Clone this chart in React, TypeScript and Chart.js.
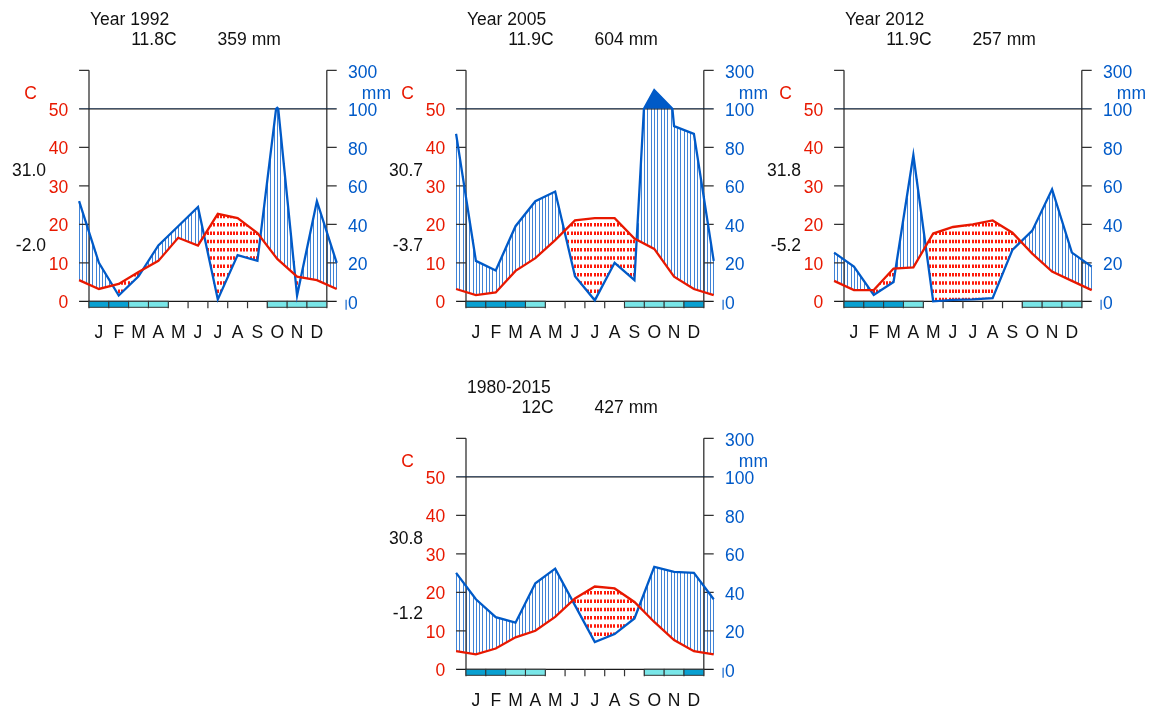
import React, { useEffect, useRef } from "react";
import { Chart, registerables } from "chart.js";

Chart.register(...registerables);

// ---------- data ----------
const MONTHS = ["J", "F", "M", "A", "M", "J", "J", "A", "S", "O", "N", "D"];
const TEMP_TICKS = [0, 10, 20, 30, 40, 50];
const PREC_TICK_LABELS = ["0", "20", "40", "60", "80", "100"];
const PREC_TOP_LABEL = "300";

const titles = ["Year 1992", "Year 2005", "Year 2012", "1980-2015"];
const meanTemp = ["11.8", "11.9", "11.9", "12"];
const totalPrec = ["359", "604", "257", "427"];
const maxLabels = ["31.0", "30.7", "31.8", "30.8"];
const minLabels = ["-2.0", "-3.7", "-5.2", "-1.2"];

const temp1992 = [3.2, 4.5, 7.6, 10.5, 16.5, 14.5, 22.7, 21.6, 17.7, 11.0, 6.4, 5.5];
const prec1992 = [20, 3, 13, 29, 39, 49, 1, 24, 21, 105, 3, 52];
const frost1992 = [2, 2, 1, 1, 0, 0, 0, 0, 0, 1, 1, 1];

const temp2005 = [1.6, 2.3, 7.9, 11.2, 15.9, 21.0, 21.6, 21.6, 16.3, 13.6, 6.4, 3.2];
const prec2005 = [21, 16, 39, 52, 57, 13, 0.5, 20, 11, 197, 91, 87];
const frost2005 = [2, 2, 2, 1, 0, 0, 0, 0, 1, 1, 1, 2];

const temp2012 = [2.9, 2.9, 8.5, 8.8, 17.6, 19.3, 20.0, 21.0, 17.8, 12.4, 7.7, 5.3];
const prec2012 = [18, 3.3, 10, 76, 0, 0.7, 1, 1.6, 26.7, 36.7, 58.2, 25.3];
const frost2012 = [2, 2, 2, 1, 0, 0, 0, 0, 0, 1, 1, 1];

const tempAll = [3.9, 5.4, 8.3, 10.0, 13.6, 18.4, 21.5, 21.0, 17.5, 12.3, 7.6, 4.7];
const precAll = [36.4, 27.1, 24.2, 44.7, 52.3, 33.2, 14.2, 18.3, 26.4, 53.2, 50.6, 50.1];
const frostAll = [2, 2, 1, 1, 0, 0, 0, 0, 0, 1, 1, 2];

// ---------- style ----------
const TCOL = "#e81800";
const PCOL = "#005ac8";
const SFCOL = "#09a0d1";
const PFCOL = "#79e6e8";
const FONT = '17.5px "Liberation Sans", Arial, sans-serif';

const CW = 400;
const CH = 360;
const AX_L = 89;
const AX_R = 326.8;
const Y0 = 301.3;
const UNIT = 3.85; // px per degree
const MW = (AX_R - AX_L) / 12;

const PANELS = [
  { ox: 0, oy: 0, temp: temp1992, prec: prec1992, frost: frost1992, i: 0 },
  { ox: 377, oy: 0, temp: temp2005, prec: prec2005, frost: frost2005, i: 1 },
  { ox: 755, oy: 0, temp: temp2012, prec: prec2012, frost: frost2012, i: 2 },
  { ox: 377, oy: 368, temp: tempAll, prec: precAll, frost: frostAll, i: 3 },
];

const XS = [-0.5, 0.5, 1.5, 2.5, 3.5, 4.5, 5.5, 6.5, 7.5, 8.5, 9.5, 10.5, 11.5, 12.5];
const ext = (a: number[]) => [a[11], ...a, a[0]];
const pTrans = (p: number) => (p <= 100 ? p / 2 : 50 + (p - 100) / 20);

function interp(arr: number[], xv: number) {
  let i = Math.floor(xv + 0.5);
  if (i < 0) i = 0;
  if (i > 12) i = 12;
  const f = xv - XS[i];
  return arr[i] + (arr[i + 1] - arr[i]) * f;
}

function Panel({ cfg }: { cfg: any }) {
  const ref = useRef<HTMLCanvasElement>(null);
  useEffect(() => {
    const T = ext(cfg.temp);
    const P = ext(cfg.prec);
    const tData = XS.map((x, i) => ({ x, y: T[i] }));
    const pData: { x: number; y: number }[] = [];
    for (let i = 0; i < XS.length; i++) {
      pData.push({ x: XS[i], y: pTrans(P[i]) });
      if (i < XS.length - 1) {
        const a = P[i], b = P[i + 1];
        if ((a - 100) * (b - 100) < 0) {
          const f = (100 - a) / (b - a);
          pData.push({ x: XS[i] + f, y: 50 });
        }
      }
    }
    const k = cfg.i;

    const plugin = {
      id: "walterLieth",
      beforeDatasetsDraw(chart: any) {
        const { ctx, chartArea } = chart;
        const xs = chart.scales.x;
        const ys = chart.scales.y;
        const y0 = ys.getPixelForValue(0);
        ctx.save();
        // hatching
        const step = 3.3;
        for (let px = chartArea.left; px <= chartArea.right + 0.01; px += step) {
          const xv = xs.getValueForPixel(px);
          const t = interp(T, xv);
          const p = pTrans(interp(P, xv));
          const yt = ys.getPixelForValue(t);
          const yp = ys.getPixelForValue(p);
          if (p > t) {
            ctx.strokeStyle = "rgba(0,90,200,0.75)";
            ctx.lineWidth = 1;
            ctx.setLineDash([]);
            const cx = Math.round(px) + 0.5;
            ctx.beginPath();
            ctx.moveTo(cx, yt);
            ctx.lineTo(cx, yp);
            ctx.stroke();
          } else if (t > p) {
            ctx.strokeStyle = "#ff1a0a";
            ctx.lineWidth = 2;
            ctx.setLineDash([3.5, 4.8]);
            ctx.lineDashOffset = y0 - yp;
            const cx = Math.round(px);
            ctx.beginPath();
            ctx.moveTo(cx, yp);
            ctx.lineTo(cx, yt);
            ctx.stroke();
          }
        }
        ctx.setLineDash([]);
        ctx.lineDashOffset = 0;
        // axes
        const xl = xs.getPixelForValue(0);
        const xr = xs.getPixelForValue(12);
        const xle = xs.getPixelForValue(-0.5);
        const xre = xs.getPixelForValue(12.5);
        const y60 = ys.getPixelForValue(60);
        ctx.strokeStyle = "#333";
        ctx.lineWidth = 1.3;
        ctx.beginPath();
        ctx.moveTo(xl, y0);
        ctx.lineTo(xl, y60);
        ctx.moveTo(xr, y0);
        ctx.lineTo(xr, y60);
        for (let v = 0; v <= 60; v += 10) {
          const yy = ys.getPixelForValue(v);
          if (v === 0 || v === 50) continue;
          ctx.moveTo(xle, yy);
          ctx.lineTo(xl, yy);
          ctx.moveTo(xr, yy);
          ctx.lineTo(xre, yy);
        }
        ctx.stroke();
        ctx.strokeStyle = "#1a1a1a";
        ctx.lineWidth = 1.2;
        ctx.beginPath();
        for (const v of [0, 50]) {
          const yy = ys.getPixelForValue(v);
          ctx.moveTo(xle, yy);
          ctx.lineTo(xre, yy);
        }
        ctx.stroke();
        // month ticks
        ctx.strokeStyle = "#333";
        ctx.lineWidth = 1.2;
        ctx.beginPath();
        for (let m = 0; m <= 12; m++) {
          const xx = xs.getPixelForValue(m);
          ctx.moveTo(xx, y0);
          ctx.lineTo(xx, y0 + 7);
        }
        ctx.stroke();
        // frost boxes
        for (let m = 0; m < 12; m++) {
          const f = cfg.frost[m];
          if (!f) continue;
          const xa = xs.getPixelForValue(m);
          const xb = xs.getPixelForValue(m + 1);
          ctx.fillStyle = f === 2 ? SFCOL : PFCOL;
          ctx.fillRect(xa, y0, xb - xa, 6);
          ctx.strokeStyle = "#333";
          ctx.lineWidth = 1;
          ctx.strokeRect(xa, y0, xb - xa, 6);
        }
        ctx.restore();
      },
      afterDraw(chart: any) {
        const { ctx } = chart;
        const xs = chart.scales.x;
        const ys = chart.scales.y;
        const xl = xs.getPixelForValue(0);
        const xr = xs.getPixelForValue(12);
        const y0 = ys.getPixelForValue(0);
        ctx.save();
        ctx.font = FONT;
        ctx.textBaseline = "alphabetic";
        // left temperature labels
        ctx.fillStyle = TCOL;
        ctx.textAlign = "right";
        TEMP_TICKS.forEach((v) => {
          ctx.fillText(String(v), xl - 20.7, ys.getPixelForValue(v) + 7);
        });
        ctx.textAlign = "center";
        ctx.fillText("C", xl - 58.5, ys.getPixelForValue(52.5));
        // right precip labels
        ctx.fillStyle = PCOL;
        ctx.textAlign = "left";
        PREC_TICK_LABELS.forEach((lab, j) => {
          ctx.fillText(lab, xr + 21.3, ys.getPixelForValue(TEMP_TICKS[j]) + 7.5);
        });
        ctx.fillText(PREC_TOP_LABEL, xr + 21.3, ys.getPixelForValue(60) + 7.5);
        ctx.fillText("mm", xr + 35, ys.getPixelForValue(52.5));
        ctx.strokeStyle = PCOL;
        ctx.lineWidth = 1.1;
        ctx.beginPath();
        ctx.moveTo(xr + 19.3, y0 - 1.5);
        ctx.lineTo(xr + 19.3, y0 + 8.5);
        ctx.stroke();
        // month labels
        ctx.fillStyle = "#111";
        ctx.textAlign = "center";
        MONTHS.forEach((m, j) => {
          ctx.fillText(m, xs.getPixelForValue(j + 0.5), y0 + 36.5);
        });
        // extreme labels
        ctx.textAlign = "right";
        ctx.fillText(maxLabels[k], xl - 43, y0 - 125.3);
        ctx.fillText(minLabels[k], xl - 43, y0 - 50.3);
        // title
        ctx.textAlign = "left";
        ctx.fillText(titles[k], xl + 1, y0 - 276.5);
        ctx.textAlign = "right";
        const ptxt = totalPrec[k] + " mm";
        const pRight = xr - 46;
        ctx.fillText(ptxt, pRight, y0 - 256);
        const pw = ctx.measureText(ptxt).width;
        ctx.fillText(meanTemp[k] + "C", pRight - pw - 41, y0 - 256);
        ctx.restore();
      },
    };

    const chart = new Chart(ref.current as HTMLCanvasElement, {
      type: "line",
      data: {
        datasets: [
          {
            data: tData,
            borderColor: TCOL,
            borderWidth: 2.3,
            pointRadius: 0,
            fill: false,
            tension: 0,
            clip: false,
          } as any,
          {
            data: pData,
            borderColor: PCOL,
            borderWidth: 2.3,
            pointRadius: 0,
            fill: false,
            tension: 0,
            clip: false,
          } as any,
          {
            data: pData,
            borderColor: "rgba(0,0,0,0)",
            borderWidth: 0,
            pointRadius: 0,
            tension: 0,
            clip: false,
            fill: { target: { value: 50 }, above: PCOL, below: "rgba(0,0,0,0)" },
          } as any,
        ],
      },
      options: {
        responsive: false,
        animation: false,
        devicePixelRatio: 1,
        events: [],
        layout: {
          padding: {
            left: AX_L - MW / 2,
            right: CW - (AX_R + MW / 2),
            top: Y0 - 60 * UNIT,
            bottom: CH - Y0,
          },
        },
        scales: {
          x: { type: "linear", min: -0.5, max: 12.5, display: false },
          y: { type: "linear", min: 0, max: 60, display: false },
        },
        plugins: {
          legend: { display: false },
          tooltip: { enabled: false },
        },
      },
      plugins: [plugin],
    });
    return () => chart.destroy();
  }, []);
  return (
    <canvas
      ref={ref}
      width={CW}
      height={CH}
      style={{ position: "absolute", left: cfg.ox, top: cfg.oy, width: CW, height: CH }}
    />
  );
}

export default function App() {
  return (
    <div
      style={{
        position: "fixed",
        left: 0,
        top: 0,
        width: 1151,
        height: 709,
        overflow: "hidden",
        background: "#fff",
      }}
    >
      {PANELS.map((p) => (
        <Panel key={p.i} cfg={p} />
      ))}
    </div>
  );
}
